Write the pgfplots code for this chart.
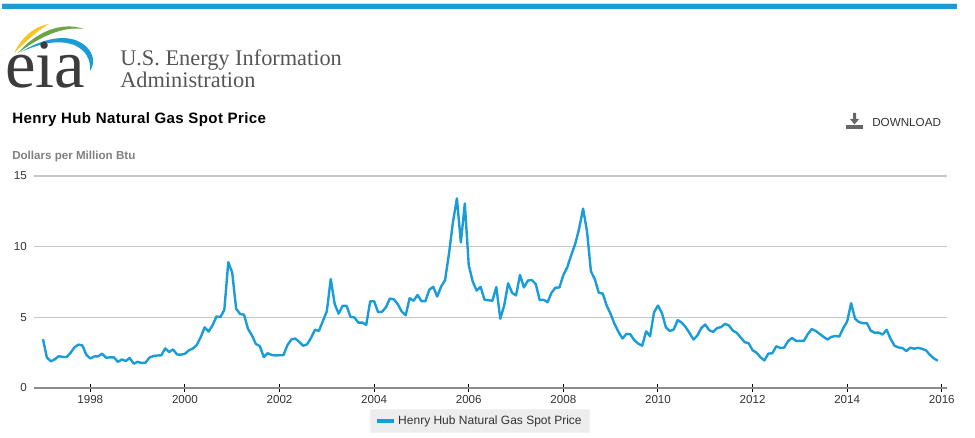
\documentclass[border=0pt]{standalone}
\usepackage{fontspec}
\setmainfont{Liberation Sans}
\newfontfamily\logofont{Liberation Serif}
\newfontfamily\titlefont[LetterSpace=2.6]{Liberation Sans Bold}
\usepackage{pgfplots}
\pgfplotsset{compat=1.18}

\definecolor{eiablue}{HTML}{1A9CD8}
\definecolor{eiagreen}{HTML}{6DA544}
\definecolor{eiayellow}{HTML}{F6C521}
\definecolor{gridgray}{HTML}{C6C6C6}
\definecolor{axisgray}{HTML}{8C8C8C}
\definecolor{ticktext}{HTML}{333333}
\definecolor{logotext}{HTML}{3C3C3C}
\definecolor{nametext}{HTML}{555555}

\begin{document}
\begin{tikzpicture}
  % page is 975x438 px, 1 px = 0.75 pt
  \path[use as bounding box] (0,0) rectangle (731.25pt,328.5pt);

  \begin{scope}[x=.75pt,y=-.75pt,yshift=328.5pt]
    % top bar
    \fill[eiablue!25] (2,3) rectangle (957,4);
    \fill[eiablue] (2,4) rectangle (957,9);
    % logo swooshes
    \fill[eiayellow] (14,53) .. controls (22,38) and (32,27) .. (49,24)
      .. controls (40,29) and (28,39) .. (14,53) -- cycle;
    \fill[eiagreen] (18,53) .. controls (32,36) and (58,20) .. (84,29)
      .. controls (62,26) and (40,37) .. (18,53) -- cycle;
    \fill[eiablue] (21,52) .. controls (40,40) and (66,32) .. (83,44)
      .. controls (93,51) and (96,62) .. (90,71)
      .. controls (91,60) and (86,50) .. (74,45)
      .. controls (58,39) and (38,44) .. (21,52) -- cycle;
    % logo and agency name
    \node[anchor=base west,inner sep=0pt,text=logotext,font=\logofont\fontsize{51.5}{50}\selectfont] at (5,88) {eia};
    \node[anchor=base west,inner sep=0pt,text=nametext,font=\logofont\fontsize{16.75}{16}\selectfont] at (120,66) {U.S. Energy Information};
    \node[anchor=base west,inner sep=0pt,text=nametext,font=\logofont\fontsize{16.75}{16}\selectfont] at (120,88) {Administration};
    % titles
    \node[anchor=base west,inner sep=0pt,font=\titlefont\fontsize{11.3}{12}\selectfont] at (12,124) {Henry Hub Natural Gas Spot Price};
    \node[anchor=base west,inner sep=0pt,text=black!50,font=\bfseries\fontsize{8.7}{10}\selectfont] at (12,160) {Dollars per Million Btu};
    % download button
    \node[anchor=base west,inner sep=0pt,text=ticktext,font=\fontsize{8.75}{10}\selectfont] at (872,127) {DOWNLOAD};
    \fill[black!60] (846,125) rectangle (863,129);
    \fill[black!60] (853,113) rectangle (856,119) -- (859,119) -- (854.5,124.5) -- (850,119) -- (853,119) -- cycle;
  \end{scope}

  \begin{axis}[
    at={(25.5pt,37.5pt)},
    anchor=south west,
    scale only axis,
    width=684.75pt,
    height=159pt,
    xmin=1996.81, xmax=2016.11,
    ymin=0, ymax=15,
    xtick={1998,2000,...,2016},
    ytick={0,5,10,15},
    xticklabel style={/pgf/number format/1000 sep={},text=ticktext,font=\fontsize{8.7}{10}\selectfont,inner sep=0pt,yshift=-2.4pt},
    yticklabel style={text=ticktext,font=\fontsize{8.7}{10}\selectfont,inner sep=0pt,xshift=-2.5pt},
    /pgf/number format/assume math mode=true,
    axis x line*=bottom,
    axis y line*=left,
    x axis line style={-,draw=axisgray,line width=1.5pt},
    y axis line style={draw=none},
    ymajorgrids,
    major grid style={gridgray,line width=.8pt},
    tick align=center,
    xtick pos=bottom,
    ytick style={draw=none},
    xtick style={black,line width=.75pt},
    major tick length=5.5pt,
    legend style={
      at={(0.368,-0.099)},anchor=north west,
      fill=black!7,draw=black!5,
      font=\fontsize{9}{10}\selectfont,text=ticktext,
      inner xsep=3.5pt,inner ysep=2.7pt,
    },
    legend image code/.code={\draw[#1,line width=2.5pt] (0,0) -- (13pt,0);},
  ]
    \addplot[color=eiablue,line width=1.8pt,line join=round] coordinates {
      (1997.000,3.45) (1997.083,2.15) (1997.167,1.89) (1997.250,2.03) (1997.333,2.25) (1997.417,2.20) (1997.500,2.19) (1997.583,2.49) (1997.667,2.88) (1997.750,3.07) (1997.833,3.01) (1997.917,2.35)
      (1998.000,2.09) (1998.083,2.23) (1998.167,2.24) (1998.250,2.43) (1998.333,2.14) (1998.417,2.17) (1998.500,2.17) (1998.583,1.85) (1998.667,2.02) (1998.750,1.91) (1998.833,2.12) (1998.917,1.72)
      (1999.000,1.85) (1999.083,1.77) (1999.167,1.79) (1999.250,2.15) (1999.333,2.26) (1999.417,2.30) (1999.500,2.31) (1999.583,2.80) (1999.667,2.55) (1999.750,2.73) (1999.833,2.37) (1999.917,2.36)
      (2000.000,2.42) (2000.083,2.66) (2000.167,2.79) (2000.250,3.04) (2000.333,3.59) (2000.417,4.29) (2000.500,3.99) (2000.583,4.43) (2000.667,5.06) (2000.750,5.02) (2000.833,5.52) (2000.917,8.90)
      (2001.000,8.17) (2001.083,5.61) (2001.167,5.23) (2001.250,5.19) (2001.333,4.19) (2001.417,3.72) (2001.500,3.11) (2001.583,2.97) (2001.667,2.19) (2001.750,2.46) (2001.833,2.34) (2001.917,2.30)
      (2002.000,2.32) (2002.083,2.32) (2002.167,3.03) (2002.250,3.43) (2002.333,3.50) (2002.417,3.26) (2002.500,2.99) (2002.583,3.09) (2002.667,3.55) (2002.750,4.12) (2002.833,4.04) (2002.917,4.74)
      (2003.000,5.43) (2003.083,7.71) (2003.167,5.93) (2003.250,5.26) (2003.333,5.81) (2003.417,5.82) (2003.500,5.03) (2003.583,4.99) (2003.667,4.62) (2003.750,4.63) (2003.833,4.47) (2003.917,6.13)
      (2004.000,6.14) (2004.083,5.37) (2004.167,5.39) (2004.250,5.71) (2004.333,6.33) (2004.417,6.27) (2004.500,5.93) (2004.583,5.41) (2004.667,5.15) (2004.750,6.35) (2004.833,6.17) (2004.917,6.58)
      (2005.000,6.15) (2005.083,6.14) (2005.167,6.96) (2005.250,7.16) (2005.333,6.47) (2005.417,7.18) (2005.500,7.63) (2005.583,9.53) (2005.667,11.75) (2005.750,13.42) (2005.833,10.30) (2005.917,13.05)
      (2006.000,8.69) (2006.083,7.54) (2006.167,6.89) (2006.250,7.16) (2006.333,6.25) (2006.417,6.21) (2006.500,6.17) (2006.583,7.14) (2006.667,4.90) (2006.750,5.85) (2006.833,7.41) (2006.917,6.73)
      (2007.000,6.55) (2007.083,8.00) (2007.167,7.11) (2007.250,7.60) (2007.333,7.64) (2007.417,7.35) (2007.500,6.22) (2007.583,6.24) (2007.667,6.07) (2007.750,6.74) (2007.833,7.10) (2007.917,7.11)
      (2008.000,7.99) (2008.083,8.54) (2008.167,9.41) (2008.250,10.18) (2008.333,11.27) (2008.417,12.69) (2008.500,11.09) (2008.583,8.26) (2008.667,7.67) (2008.750,6.74) (2008.833,6.68) (2008.917,5.82)
      (2009.000,5.24) (2009.083,4.52) (2009.167,3.96) (2009.250,3.50) (2009.333,3.83) (2009.417,3.80) (2009.500,3.38) (2009.583,3.14) (2009.667,2.99) (2009.750,4.01) (2009.833,3.66) (2009.917,5.35)
      (2010.000,5.83) (2010.083,5.32) (2010.167,4.29) (2010.250,4.03) (2010.333,4.14) (2010.417,4.80) (2010.500,4.63) (2010.583,4.32) (2010.667,3.89) (2010.750,3.43) (2010.833,3.71) (2010.917,4.25)
      (2011.000,4.49) (2011.083,4.09) (2011.167,3.97) (2011.250,4.24) (2011.333,4.31) (2011.417,4.54) (2011.500,4.42) (2011.583,4.06) (2011.667,3.90) (2011.750,3.57) (2011.833,3.24) (2011.917,3.17)
      (2012.000,2.67) (2012.083,2.50) (2012.167,2.17) (2012.250,1.95) (2012.333,2.43) (2012.417,2.46) (2012.500,2.95) (2012.583,2.84) (2012.667,2.85) (2012.750,3.32) (2012.833,3.54) (2012.917,3.34)
      (2013.000,3.33) (2013.083,3.33) (2013.167,3.81) (2013.250,4.17) (2013.333,4.04) (2013.417,3.83) (2013.500,3.62) (2013.583,3.43) (2013.667,3.62) (2013.750,3.68) (2013.833,3.64) (2013.917,4.24)
      (2014.000,4.71) (2014.083,6.00) (2014.167,4.90) (2014.250,4.66) (2014.333,4.58) (2014.417,4.59) (2014.500,4.05) (2014.583,3.91) (2014.667,3.92) (2014.750,3.78) (2014.833,4.12) (2014.917,3.48)
      (2015.000,2.99) (2015.083,2.87) (2015.167,2.83) (2015.250,2.61) (2015.333,2.85) (2015.417,2.78) (2015.500,2.84) (2015.583,2.77) (2015.667,2.66) (2015.750,2.34) (2015.833,2.09) (2015.917,1.93)
    };
    \legend{Henry Hub Natural Gas Spot Price}
  \end{axis}
\end{tikzpicture}
\end{document}
